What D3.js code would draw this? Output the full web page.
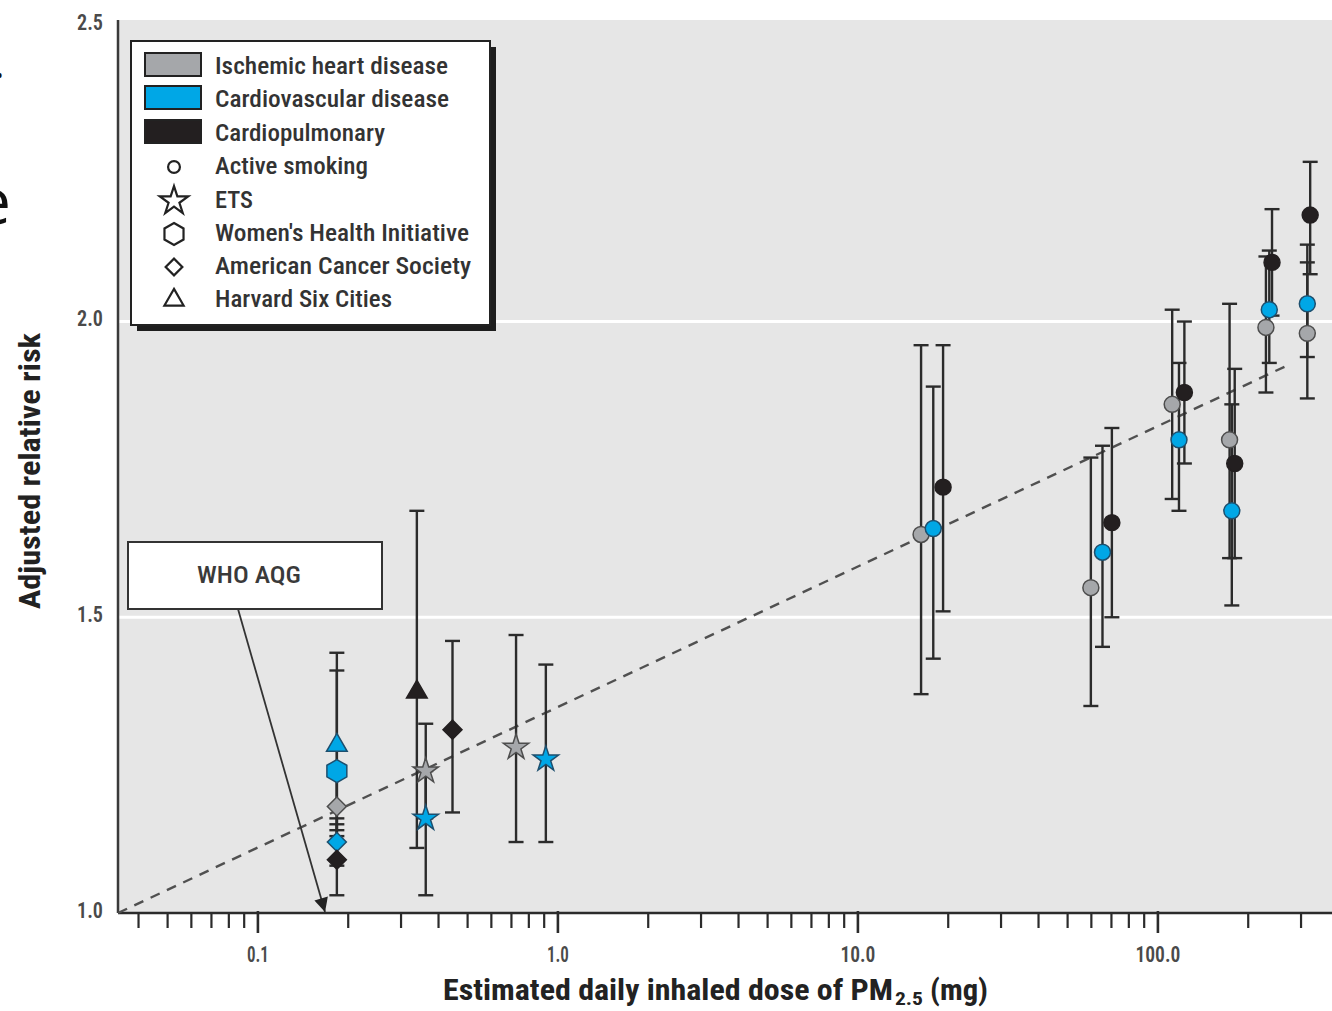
<!DOCTYPE html>
<html>
<head>
<meta charset="utf-8">
<script src="https://cdn.jsdelivr.net/npm/d3@7"></script>
<style>
  body { margin: 0; background: #fff; }
  svg { display: block; }
  text { font-family: "Liberation Sans Narrow", "Roboto Condensed", "DejaVu Sans Condensed", Roboto, "Liberation Sans", sans-serif; }
</style>
</head>
<body>
<div id="chart"></div>
<script>
// outcome series (legend swatches)
const outcomes = ['Ischemic heart disease', 'Cardiovascular disease', 'Cardiopulmonary'];
// study / exposure types (legend symbols)
const studies = ['Active smoking', 'ETS', "Women's Health Initiative", 'American Cancer Society', 'Harvard Six Cities'];
const studyKeys = ['smoking', 'ets', 'whi', 'acs', 'harvard'];

// one entry per estimate
const pointDose = [0.184, 0.184, 0.184, 0.184, 0.184,
  0.340, 0.364, 0.364, 0.447, 0.728, 0.915,
  16.3, 17.9, 19.3,
  60.0, 65.6, 70.5,
  112, 118, 123,
  174, 177, 181,
  230, 236, 241,
  316, 316, 323];
const pointRR = [1.28, 1.24, 1.18, 1.12, 1.09,
  1.37, 1.24, 1.16, 1.31, 1.28, 1.26,
  1.64, 1.65, 1.72,
  1.55, 1.61, 1.66,
  1.86, 1.80, 1.88,
  1.80, 1.68, 1.76,
  1.99, 2.02, 2.10,
  1.98, 2.03, 2.18];
const pointLow = [1.13, 1.09, 1.14, 1.08, 1.03,
  1.11, 1.16, 1.03, 1.17, 1.12, 1.12,
  1.37, 1.43, 1.51,
  1.35, 1.45, 1.50,
  1.70, 1.68, 1.76,
  1.60, 1.52, 1.60,
  1.88, 1.93, 2.01,
  1.87, 1.94, 2.08];
const pointHigh = [1.44, 1.41, 1.23, 1.15, 1.16,
  1.68, 1.32, 1.24, 1.46, 1.47, 1.42,
  1.96, 1.89, 1.96,
  1.77, 1.79, 1.82,
  2.02, 1.93, 2.00,
  2.03, 1.86, 1.92,
  2.11, 2.12, 2.19,
  2.10, 2.13, 2.27];
// 0 = IHD, 1 = CVD, 2 = cardiopulmonary
const pointOutcome = [1, 1, 0, 1, 2,
  2, 0, 1, 2, 0, 1,
  0, 1, 2, 0, 1, 2, 0, 1, 2, 0, 1, 2, 0, 1, 2, 0, 1, 2];
const pointStudy = ['harvard', 'whi', 'acs', 'acs', 'acs',
  'harvard', 'ets', 'ets', 'acs', 'ets', 'ets',
  'smoking', 'smoking', 'smoking', 'smoking', 'smoking', 'smoking',
  'smoking', 'smoking', 'smoking', 'smoking', 'smoking', 'smoking',
  'smoking', 'smoking', 'smoking', 'smoking', 'smoking', 'smoking'];

// fitted dashed line
const trendDose = [0.0343, 277];
const trendRR = [1.0, 1.928];

// axis ticks
const xTickValues = [0.1, 1, 10, 100];
const xTickLabels = ['0.1', '1.0', '10.0', '100.0'];
const yTickValues = [1.0, 1.5, 2.0, 2.5];
const yTickLabels = ['1.0', '1.5', '2.0', '2.5'];
const gridValues = [1.5, 2.0];

// WHO air quality guideline annotation target
const whoDose = 0.168;
const whoRR = 1.0;

const W = 1332, H = 1011;
const fillColors = ['#a5a7aa', '#00a7e6', '#231f20'];
const strokeColors = ['#4d4d4d', '#1d4f6e', '#231f20'];
const ink = '#2b2b2b';

const svg = d3.select('#chart').append('svg')
  .attr('width', W)
  .attr('height', H);

const plotLeft = 118, plotTop = 20, plotBottom = 913;

//scales
const x = d3.scaleLog()
  .domain([0.0343, 400])
  .range([plotLeft, plotLeft + 300 * Math.log10(400 / 0.0343)]);
const y = d3.scaleLinear()
  .domain([1, 2.5])
  .range([plotBottom, 25.8]);

// plot background
svg.append('rect')
  .attr('x', plotLeft).attr('y', plotTop)
  .attr('width', W - plotLeft).attr('height', plotBottom - plotTop)
  .attr('fill', '#e6e6e6');

// white grid lines
svg.selectAll('.grid')
  .data(gridValues)
  .enter()
  .append('line')
  .attr('x1', plotLeft).attr('x2', W)
  .attr('y1', d => y(d)).attr('y2', d => y(d))
  .attr('stroke', '#fff')
  .attr('stroke-width', 3);

// minor ticks (2..9 in every decade)
const minorTicks = x.ticks().filter(d => xTickValues.indexOf(+d.toPrecision(3)) < 0);
svg.append('g')
  .attr('transform', `translate(0, ${plotBottom})`)
  .call(d3.axisBottom(x).tickValues(minorTicks).tickSize(15).tickFormat(''))
  .call(g => g.select('.domain').remove())
  .selectAll('line')
  .attr('stroke', ink)
  .attr('stroke-width', 2.2);

// major ticks and labels
const xLabelLen = [22, 22, 35, 45];
svg.append('g')
  .attr('transform', `translate(0, ${plotBottom - 2})`)
  .call(d3.axisBottom(x).tickValues(xTickValues).tickSize(22).tickPadding(13)
    .tickFormat((d, i) => xTickLabels[i]))
  .call(g => g.select('.domain').remove())
  .call(g => g.selectAll('line').attr('stroke', ink).attr('stroke-width', 2.6))
  .selectAll('text')
  .attr('fill', '#4a4a4a')
  .style('font-size', '22px')
  .style('font-weight', '600')
  .attr('textLength', (d, i) => xLabelLen[i])
  .attr('lengthAdjust', 'spacingAndGlyphs');

// y labels
svg.append('g')
  .attr('transform', `translate(${plotLeft}, -3)`)
  .call(d3.axisLeft(y).tickValues(yTickValues).tickSize(0).tickPadding(15)
    .tickFormat((d, i) => yTickLabels[i]))
  .call(g => g.select('.domain').remove())
  .selectAll('text')
  .attr('fill', '#4a4a4a')
  .style('font-size', '22px')
  .style('font-weight', '600')
  .attr('textLength', 26)
  .attr('lengthAdjust', 'spacingAndGlyphs');

// axis lines
svg.append('line')
  .attr('x1', plotLeft).attr('x2', plotLeft)
  .attr('y1', plotTop).attr('y2', plotBottom)
  .attr('stroke', '#3a3a3a').attr('stroke-width', 2.5);
svg.append('line')
  .attr('x1', plotLeft).attr('x2', W)
  .attr('y1', plotBottom).attr('y2', plotBottom)
  .attr('stroke', '#2b2b2b').attr('stroke-width', 2.5);

// dashed trend line
svg.append('line')
  .attr('x1', x(trendDose[0])).attr('y1', y(trendRR[0]))
  .attr('x2', x(trendDose[1])).attr('y2', y(trendRR[1]))
  .attr('stroke', '#505050')
  .attr('stroke-width', 2.4)
  .attr('stroke-dasharray', '10 8');

// error bars
const idx = d3.range(pointDose.length);
const bars = svg.append('g');
bars.selectAll('.ci')
  .data(idx)
  .enter()
  .append('line')
  .attr('x1', i => x(pointDose[i])).attr('x2', i => x(pointDose[i]))
  .attr('y1', i => y(pointLow[i])).attr('y2', i => y(pointHigh[i]))
  .attr('stroke', ink).attr('stroke-width', 2.4);
['low', 'high'].forEach(end => {
  bars.selectAll('.cap-' + end)
    .data(idx)
    .enter()
    .append('line')
    .attr('x1', i => x(pointDose[i]) - 7.5).attr('x2', i => x(pointDose[i]) + 7.5)
    .attr('y1', i => y(end === 'low' ? pointLow[i] : pointHigh[i]))
    .attr('y2', i => y(end === 'low' ? pointLow[i] : pointHigh[i]))
    .attr('stroke', ink).attr('stroke-width', 2.4);
});

// marker shapes
function hexagon(r) {
  const pts = d3.range(6).map(k => {
    const a = -Math.PI / 2 + k * Math.PI / 3;
    return [r * Math.cos(a), r * Math.sin(a)];
  });
  return 'M' + pts.map(p => p.join(',')).join('L') + 'Z';
}
function shapePath(key) {
  if (key === 'smoking') return d3.symbol(d3.symbolCircle, 200)();
  if (key === 'ets') return d3.symbol(d3.symbolStar, 200)();
  if (key === 'whi') return hexagon(11.5);
  if (key === 'acs') return d3.symbol(d3.symbolSquare, 180)();
  return d3.symbol(d3.symbolTriangle, 185)();
}

svg.append('g')
  .selectAll('path')
  .data(idx)
  .enter()
  .append('path')
  .attr('d', i => shapePath(pointStudy[i]))
  .attr('transform', i => {
    let t = `translate(${x(pointDose[i])}, ${y(pointRR[i])})`;
    if (pointStudy[i] === 'acs') t += ' rotate(45)';
    if (pointStudy[i] === 'harvard') t += ' translate(0, -2)';
    return t;
  })
  .attr('fill', i => fillColors[pointOutcome[i]])
  .attr('stroke', i => strokeColors[pointOutcome[i]])
  .attr('stroke-width', 1.5);

// WHO AQG annotation
svg.append('rect')
  .attr('x', 128).attr('y', 542)
  .attr('width', 254).attr('height', 67)
  .attr('fill', '#fff')
  .attr('stroke', '#333').attr('stroke-width', 2);
svg.append('text')
  .attr('x', 249).attr('y', 583)
  .attr('text-anchor', 'middle')
  .attr('fill', '#3a3a3a')
  .style('font-size', '23px')
  .style('font-weight', '500')
  .attr('textLength', 104).attr('lengthAdjust', 'spacingAndGlyphs')
  .text('WHO AQG');

svg.append('defs').append('marker')
  .attr('id', 'arrow')
  .attr('viewBox', '0 0 10 10')
  .attr('refX', 10).attr('refY', 5)
  .attr('markerWidth', 20).attr('markerHeight', 14)
  .attr('markerUnits', 'userSpaceOnUse')
  .attr('orient', 'auto')
  .append('path')
  .attr('d', 'M0,0 L10,5 L0,10 Z')
  .attr('fill', '#222');
svg.append('line')
  .attr('x1', 238).attr('y1', 609)
  .attr('x2', x(whoDose)).attr('y2', y(whoRR) - 1)
  .attr('stroke', '#333').attr('stroke-width', 1.8)
  .attr('marker-end', 'url(#arrow)');

// legend
const legend = svg.append('g');
legend.append('rect')
  .attr('x', 137).attr('y', 47)
  .attr('width', 359).attr('height', 284)
  .attr('fill', '#1e1e1e');
legend.append('rect')
  .attr('x', 131).attr('y', 41)
  .attr('width', 359).attr('height', 284)
  .attr('fill', '#fff')
  .attr('stroke', '#222').attr('stroke-width', 2);

const legendTextLen = [233, 234, 170, 153, 38, 254, 256, 177];
const rowBase = [74, 107, 141, 174, 208, 241, 274, 307];

legend.selectAll('.sw')
  .data(outcomes)
  .enter()
  .append('rect')
  .attr('x', 145).attr('y', (d, i) => rowBase[i] - 21)
  .attr('width', 56).attr('height', 23)
  .attr('fill', (d, i) => fillColors[i])
  .attr('stroke', '#222').attr('stroke-width', 2);

legend.selectAll('.sym')
  .data(studyKeys)
  .enter()
  .append('path')
  .attr('d', d => {
    if (d === 'smoking') return d3.symbol(d3.symbolCircle, 110)();
    if (d === 'ets') return d3.symbol(d3.symbolStar, 250)();
    if (d === 'whi') return hexagon(11);
    if (d === 'acs') return d3.symbol(d3.symbolSquare, 140)();
    return d3.symbol(d3.symbolTriangle, 160)();
  })
  .attr('transform', (d, i) => {
    let t = `translate(174, ${rowBase[i + 3] - 7})`;
    if (d === 'acs') t += ' rotate(45)';
    return t;
  })
  .attr('fill', '#fff')
  .attr('stroke', '#222').attr('stroke-width', 2.2);

legend.selectAll('.lbl')
  .data(outcomes.concat(studies))
  .enter()
  .append('text')
  .attr('x', 215).attr('y', (d, i) => rowBase[i])
  .attr('fill', '#333')
  .style('font-size', '24px')
  .style('font-weight', '500')
  .attr('textLength', (d, i) => legendTextLen[i])
  .attr('lengthAdjust', 'spacingAndGlyphs')
  .text(d => d);

// axis titles
svg.append('text')
  .attr('x', 443).attr('y', 1000)
  .attr('fill', '#222')
  .style('font-size', '29px').style('font-weight', 'bold')
  .attr('textLength', 450).attr('lengthAdjust', 'spacingAndGlyphs')
  .text('Estimated daily inhaled dose of PM');
svg.append('text')
  .attr('x', 895).attr('y', 1005)
  .attr('fill', '#222')
  .style('font-size', '18px').style('font-weight', 'bold')
  .attr('textLength', 28).attr('lengthAdjust', 'spacingAndGlyphs')
  .text('2.5');
svg.append('text')
  .attr('x', 930).attr('y', 1000)
  .attr('fill', '#222')
  .style('font-size', '29px').style('font-weight', 'bold')
  .attr('textLength', 58).attr('lengthAdjust', 'spacingAndGlyphs')
  .text('(mg)');

svg.append('text')
  .attr('transform', 'translate(40, 609) rotate(-90)')
  .attr('fill', '#222')
  .style('font-size', '29px').style('font-weight', 'bold')
  .attr('textLength', 276).attr('lengthAdjust', 'spacingAndGlyphs')
  .text('Adjusted relative risk');

// cropped slide text at the left edge (cut off in the source too)
svg.append('text')
  .attr('x', -25).attr('y', 224)
  .attr('fill', '#111')
  .style('font-family', '"Open Sans", "Noto Sans", sans-serif')
  .style('font-size', '64px')
  .text('e');
svg.append('text')
  .attr('x', -6).attr('y', 78)
  .attr('fill', '#111')
  .style('font-family', '"Open Sans", "Noto Sans", sans-serif')
  .style('font-size', '40px')
  .text('.');
</script>
</body>
</html>
